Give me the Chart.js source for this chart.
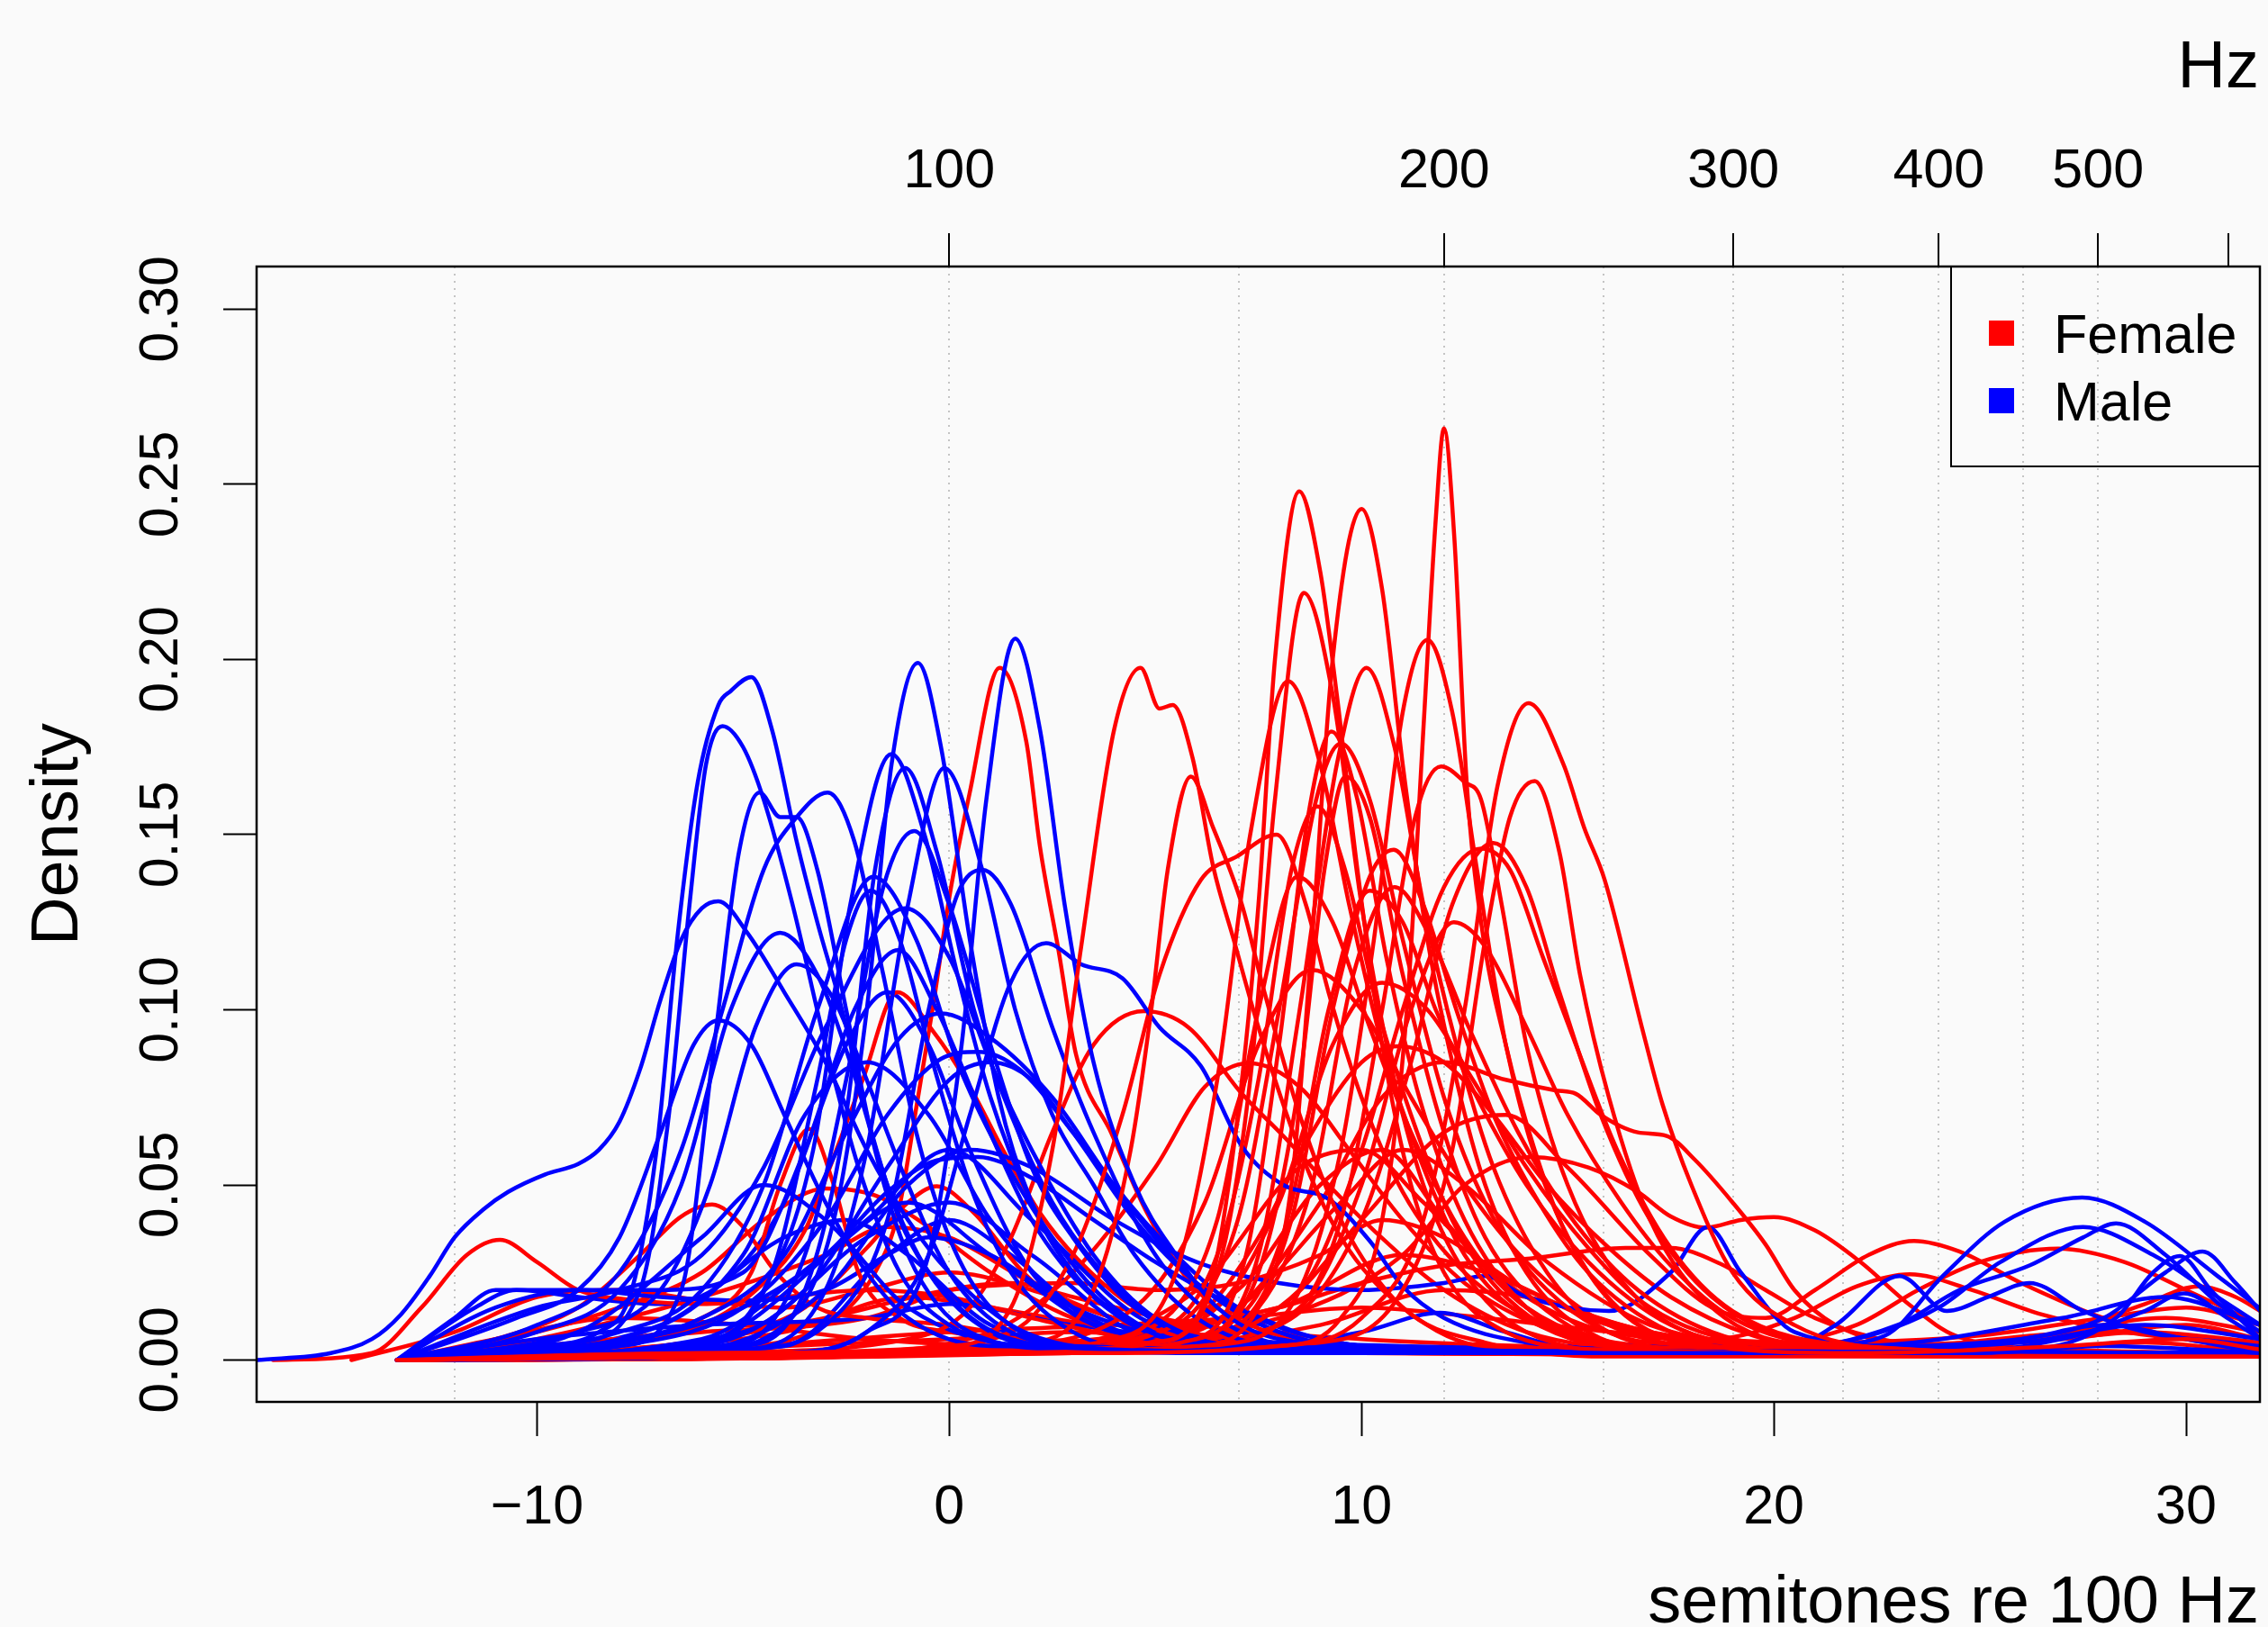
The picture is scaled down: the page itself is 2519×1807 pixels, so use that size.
<!DOCTYPE html>
<html>
<head>
<meta charset="utf-8">
<title>F0 density per speaker</title>
<script src="https://cdn.jsdelivr.net/npm/chart.js@4.4.1/dist/chart.umd.min.js"></script>
<style>
  html, body { margin: 0; padding: 0; background: #fafafa; overflow: hidden; }
  #wrap { width: 2519px; height: 1807px; position: relative; }
</style>
</head>
<body>
<div id="wrap"><canvas id="chart"></canvas></div>
<script>
/* ================= AXES / TEXT ================= */
const semitoneTicks  = [-10, 0, 10, 20, 30];
const semitoneLabels = ["\u221210", "0", "10", "20", "30"];
const densityTicks   = [0, 0.05, 0.10, 0.15, 0.20, 0.25, 0.30];
const densityLabels  = ["0.00", "0.05", "0.10", "0.15", "0.20", "0.25", "0.30"];
const hzTicks  = [50, 100, 150, 200, 250, 300, 350, 400, 450, 500, 550, 600];
const hzLabels = ["", "100", "", "200", "", "300", "", "400", "", "500", "", ""];
const xTitle   = "semitones re 100 Hz";
const x2Title  = "Hz";
const yTitle   = "Density";
const legendLabels = ["Female", "Male"];
const legendColors = ["#ff0000", "#0000ff"];

/* ================= DATA ================= */
// knots [semitones re 100 Hz, density]

// ---- female ----
const F01 = [[-13.4,0],[-6,0.002],[3,0.002],[8,0.004],[9.5,0.012],[10.5,0.04],[11.1,0.1],[11.5,0.18],[11.8,0.24],[12,0.266],[12.25,0.235],[12.55,0.165],[12.9,0.125],[13.5,0.09],[14.2,0.06],[15,0.035],[16.5,0.012],[18.5,0.004],[22,0.002],[27,0.004],[30,0.006],[31.8,0.003]];
const F02 = [[-13.4,0],[-5,0.002],[2,0.002],[5,0.005],[6.3,0.02],[7,0.07],[7.5,0.13],[7.9,0.2],[8.49,0.248],[9,0.225],[9.4,0.19],[9.9,0.14],[10.5,0.09],[11.2,0.05],[12,0.025],[13.5,0.008],[16,0.003],[31.8,0.001]];
const F03 = [[-13.4,0],[0,0.002],[6,0.004],[7.5,0.015],[8.3,0.05],[8.8,0.12],[9.3,0.2],[10,0.243],[10.5,0.22],[11,0.17],[11.6,0.12],[12.3,0.08],[13,0.05],[14,0.025],[15.5,0.008],[18,0.002],[31.8,0.001]];
const F04 = [[-13.4,0],[0,0.002],[5,0.005],[6.5,0.025],[7.3,0.08],[7.9,0.16],[8.6,0.219],[9.3,0.19],[10,0.13],[10.7,0.085],[11.5,0.05],[12.5,0.025],[14,0.008],[17,0.002],[31.8,0.001]];
const F05 = [[-13.4,0],[2,0.002],[7,0.005],[8.5,0.02],[9.5,0.06],[10.3,0.12],[11,0.185],[11.6,0.2056],[12.2,0.185],[12.8,0.14],[13.5,0.09],[14.3,0.055],[15.5,0.025],[17,0.008],[20,0.002],[31.8,0.001]];
const F06 = [[-13.4,0],[-5,0.002],[0,0.004],[1.5,0.015],[2.5,0.06],[3.2,0.118],[4,0.18],[4.64,0.1976],[5.1,0.186],[5.42,0.187],[5.9,0.172],[6.4,0.141],[6.9,0.12],[7.5,0.095],[8.5,0.06],[9.5,0.035],[11,0.015],[13,0.004],[31.8,0.001]];
const F07 = [[-13.4,0],[0,0.002],[4,0.006],[5.5,0.025],[6.5,0.08],[7.3,0.15],[8.22,0.1938],[9,0.17],[9.7,0.13],[10.5,0.09],[11.5,0.055],[12.5,0.03],[14,0.012],[17,0.003],[31.8,0.001]];
const F08 = [[-13.4,0],[2,0.002],[6,0.006],[7.5,0.03],[8.5,0.1],[9.4,0.17],[10.12,0.1976],[10.8,0.175],[11.5,0.13],[12.3,0.09],[13.2,0.055],[14.5,0.025],[16,0.008],[19,0.002],[31.8,0.001]];
const F09 = [[-13.4,0],[2,0.002],[8,0.004],[10,0.012],[11.5,0.04],[12.5,0.1],[13.3,0.164],[14.05,0.1875],[14.9,0.17],[15.4,0.152],[15.9,0.137],[16.8,0.095],[17.3,0.073],[18,0.05],[19,0.025],[20.5,0.01],[23,0.003],[31.8,0.001]];
const F10 = [[-13.4,0],[3,0.002],[9,0.005],[11,0.02],[12.2,0.06],[13,0.12],[13.6,0.155],[14.2,0.1653],[14.8,0.145],[15.3,0.11],[16,0.075],[17,0.04],[18.5,0.015],[21,0.004],[31.8,0.001]];
const F11 = [[-13.4,0],[-3,0.002],[2,0.005],[3.5,0.02],[4.4,0.06],[4.9,0.1],[5.3,0.14],[5.86,0.1666],[6.4,0.152],[7.1,0.13],[7.6,0.107],[8.5,0.07],[9.5,0.04],[11,0.015],[13,0.005],[16,0.001],[31.8,0.001]];
const F12 = [[-13.4,0],[3,0.002],[6,0.006],[7.2,0.03],[8,0.09],[8.7,0.155],[9.27,0.1794],[9.9,0.16],[10.6,0.115],[11.4,0.075],[12.5,0.04],[14,0.015],[16,0.004],[31.8,0.001]];
const F13 = [[-13.4,0],[2,0.003],[5.5,0.01],[7,0.04],[8,0.1],[8.9,0.16],[9.5,0.176],[10.2,0.16],[11,0.12],[12,0.075],[13,0.045],[14.5,0.02],[17,0.005],[31.8,0.001]];
const F14 = [[-13.4,0],[4,0.003],[8,0.01],[9.5,0.04],[10.5,0.1],[11.3,0.155],[11.93,0.1695],[12.5,0.165],[12.9,0.16],[13.4,0.13],[14,0.09],[15,0.05],[16.5,0.02],[19,0.005],[31.8,0.001]];
const F15 = [[-13.4,0],[2,0.002],[6,0.006],[7.5,0.025],[8.5,0.08],[9.1,0.14],[9.61,0.1666],[10.2,0.155],[11,0.11],[12,0.065],[13,0.035],[14.5,0.014],[17,0.003],[31.8,0.001]];
const F16 = [[-13.4,0],[3,0.002],[8,0.01],[10,0.04],[11.2,0.085],[12.2,0.13],[13.2,0.1476],[14,0.135],[14.8,0.105],[15.8,0.07],[17,0.04],[18.5,0.018],[21,0.005],[31.8,0.001]];
const F17 = [[-13.4,0],[4,0.003],[8.5,0.02],[10,0.06],[11,0.1],[12,0.135],[12.9,0.146],[13.6,0.14],[14.4,0.115],[15.2,0.09],[16.2,0.06],[17.5,0.032],[19,0.014],[22,0.004],[31.8,0.001]];
const F18 = [[-13.4,0],[1,0.002],[5,0.008],[6.5,0.03],[7.5,0.08],[8.3,0.14],[8.93,0.158],[9.6,0.14],[10.4,0.1],[11.2,0.07],[12.2,0.04],[13.5,0.018],[16,0.004],[31.8,0.001]];
const F19 = [[-13.4,0],[-2,0.002],[1.5,0.008],[3,0.03],[4.2,0.07],[5.1,0.11],[6.1,0.137],[6.98,0.1438],[7.94,0.15],[8.65,0.13],[9.2,0.105],[10,0.075],[11,0.048],[12.5,0.025],[14.5,0.01],[17,0.003],[31.8,0.001]];
const F20 = [[-13.4,0],[4,0.003],[7,0.01],[8.3,0.04],[9.3,0.1],[10.2,0.138],[10.78,0.1457],[11.5,0.13],[12.3,0.1],[13.2,0.07],[14.3,0.045],[15.5,0.025],[17.5,0.008],[20,0.002],[31.8,0.001]];
const F21 = [[-13.4,0],[2,0.003],[5,0.01],[6.5,0.04],[7.5,0.1],[8.44,0.138],[9.3,0.125],[10.2,0.095],[11.2,0.065],[12.5,0.035],[14,0.015],[16.5,0.004],[31.8,0.001]];
const F22 = [[-13.4,0],[4,0.003],[7,0.012],[8.2,0.04],[9.2,0.1],[10.2,0.134],[11,0.125],[11.8,0.1],[12.8,0.075],[14,0.05],[15.5,0.028],[17.5,0.01],[20,0.003],[31.8,0.001]];
const F23 = [[-13.4,0],[5,0.003],[7.5,0.015],[8.8,0.05],[9.8,0.11],[10.8,0.135],[11.7,0.12],[12.6,0.095],[13.8,0.065],[15,0.042],[16.5,0.022],[18.5,0.008],[21,0.003],[31.8,0.001]];
const F24 = [[-13.4,0],[5,0.003],[8.5,0.015],[10,0.05],[11.2,0.1],[12.24,0.125],[13,0.118],[14,0.095],[15,0.07],[16.3,0.045],[17.5,0.027],[19,0.012],[21.5,0.004],[31.8,0.001]];
const F25 = [[-13.4,0],[3,0.003],[6.5,0.015],[8,0.045],[9.3,0.09],[10.5,0.1077],[11.6,0.1],[12.7,0.08],[14,0.055],[15.5,0.032],[17,0.015],[19.5,0.005],[31.8,0.001]];
const F26 = [[-13.4,0],[1,0.004],[4.5,0.015],[6.2,0.045],[7.5,0.09],[8.8,0.1114],[10,0.1],[11.2,0.075],[12.5,0.05],[14,0.028],[16,0.01],[19,0.003],[31.8,0.001]];
const F27 = [[-13.4,0],[-6,0.002],[-1,0.006],[0.5,0.015],[1.5,0.035],[2.5,0.065],[3.5,0.09],[4.72,0.0996],[5.8,0.095],[7.1,0.076],[8.1,0.064],[9.2,0.05],[10.3,0.037],[12,0.02],[14,0.008],[17,0.003],[31.8,0.001]];
const F28 = [[-13.4,0],[3,0.003],[6,0.012],[7.5,0.035],[8.8,0.065],[10,0.085],[10.88,0.0896],[12,0.085],[13.2,0.07],[14.5,0.05],[16,0.032],[17.5,0.018],[19.5,0.007],[22,0.002],[31.8,0.001]];
const F29 = [[-13.4,0],[-3,0.002],[1,0.008],[3,0.025],[5,0.055],[6.2,0.078],[7.27,0.0848],[8.5,0.078],[9.7,0.06],[11,0.04],[12.5,0.022],[14.5,0.009],[17,0.003],[31.8,0.001]];
const F30 = [[-13.4,0],[-9,0.004],[-6,0.01],[-4.5,0.022],[-3.5,0.037],[-2.8,0.058],[-2.1,0.08],[-1.26,0.105],[-0.4,0.094],[0.5,0.078],[1.35,0.059],[2.2,0.042],[3.1,0.029],[4.5,0.015],[6.5,0.006],[10,0.002],[31.8,0.001]];
const F31 = [[-13.4,0],[-9,0.005],[-6,0.012],[-4.8,0.025],[-4.1,0.05],[-3.4,0.066],[-2.8,0.05],[-2.2,0.025],[-1.2,0.012],[0,0.008],[2,0.006],[4,0.005],[8,0.003],[31.8,0.001]];
const F32 = [[-13.4,0],[-11,0.006],[-9,0.015],[-7.5,0.03],[-6.5,0.041],[-5.75,0.0444],[-5,0.038],[-4.2,0.025],[-3.2,0.015],[-2,0.012],[0,0.01],[2,0.006],[5,0.003],[31.8,0.001]];
const F33 = [[-16.4,0],[-14,0.002],[-12.8,0.015],[-11.7,0.03],[-10.9,0.0343],[-10,0.028],[-9,0.02],[-7.5,0.017],[-6,0.016],[-4,0.018],[-2,0.02],[0,0.018],[2,0.012],[5,0.005],[10,0.002],[31.8,0.001]];
const F34 = [[-13.4,0],[-10,0.008],[-8,0.015],[-6,0.025],[-4.5,0.04],[-3,0.049],[-1.8,0.047],[-0.5,0.038],[1,0.025],[3,0.012],[6,0.004],[31.8,0.001]];
const F35 = [[-13.4,0],[-8,0.003],[-5,0.008],[-3.5,0.015],[-2,0.032],[-1,0.045],[-0.3,0.0496],[0.6,0.042],[1.8,0.025],[3.2,0.012],[5.5,0.005],[31.8,0.001]];
const F36 = [[-13.4,0],[-4,0.002],[3,0.004],[8,0.012],[11,0.03],[12.5,0.05],[14.1,0.058],[15.5,0.055],[16.7,0.048],[17.5,0.041],[18.35,0.0378],[19.2,0.04],[20,0.0408],[21,0.037],[22.1,0.028],[23.3,0.0157],[24.4,0.007],[27,0.003],[31.8,0.002]];
const F37 = [[-13.4,0],[3,0.003],[8,0.015],[10,0.04],[12,0.065],[13.5,0.07],[15,0.055],[17,0.03],[18.5,0.015],[19.8,0.012],[21,0.02],[22.3,0.03],[23.4,0.034],[24.5,0.031],[26,0.022],[28,0.012],[30,0.006],[31.8,0.003]];
const F38 = [[-13.4,0],[3,0.003],[7,0.015],[9.5,0.045],[11,0.06],[12.5,0.05],[14.5,0.028],[17,0.01],[20,0.005],[22,0.01],[23.5,0.02],[25,0.028],[26.9,0.0318],[28.5,0.028],[30,0.02],[31.8,0.01]];
const F39 = [[-13.4,0],[2,0.003],[6,0.02],[8.5,0.055],[10,0.06],[11.5,0.045],[13.5,0.022],[16,0.008],[18.5,0.006],[20.5,0.012],[22,0.021],[23.3,0.0245],[24.8,0.02],[26.5,0.013],[28.5,0.008],[31.8,0.004]];
const F40 = [[-13.4,0],[3,0.003],[7,0.02],[9,0.05],[10.5,0.06],[12,0.04],[14,0.015],[17,0.004],[24,0.003],[27,0.008],[29,0.016],[30.3,0.021],[31.2,0.018],[31.8,0.014]];
const F41 = [[-13.4,0],[3,0.003],[7,0.015],[9,0.045],[10.5,0.075],[12,0.085],[13.5,0.08],[14.7,0.077],[15.2,0.076],[15.8,0.07],[16.7,0.065],[17.4,0.064],[18.1,0.057],[19,0.045],[19.8,0.033],[20.5,0.02],[21.5,0.01],[23.5,0.004],[31.8,0.001]];
const F42 = [[-13.4,0],[0,0.003],[5,0.008],[8,0.015],[10,0.022],[12,0.027],[14.1,0.029],[16.4,0.032],[17.5,0.032],[18.7,0.0275],[19.8,0.02],[21,0.012],[23,0.005],[26,0.003],[29,0.005],[31.8,0.002]];
const F43 = [[-13.4,0],[-10,0.004],[-6,0.008],[-2,0.012],[0,0.02],[1.5,0.022],[3,0.018],[6,0.01],[10,0.006],[14,0.004],[20,0.003],[26,0.005],[29,0.008],[31.8,0.005]];
const F44 = [[-13.4,0],[-8,0.003],[-4,0.008],[-1,0.018],[1,0.015],[4,0.01],[8,0.015],[11,0.03],[13,0.025],[16,0.01],[20,0.004],[27,0.006],[30,0.01],[31.8,0.006]];
const F45 = [[-13.4,0],[-11,0.006],[-8,0.012],[-5,0.01],[-2,0.006],[2,0.004],[6,0.005],[9,0.01],[12,0.02],[14,0.018],[17,0.008],[22,0.003],[28,0.008],[31.8,0.004]];
const F46 = [[-13.4,0],[-9,0.002],[-4,0.004],[0,0.006],[3,0.008],[6,0.006],[10,0.004],[16,0.003],[22,0.004],[26,0.006],[29.5,0.012],[31.8,0.008]];
const F47 = [[-13.4,0],[-10,0.006],[-6,0.018],[-3,0.03],[-1.5,0.038],[0,0.035],[2,0.022],[4,0.012],[7,0.006],[12,0.003],[31.8,0.001]];
const F48 = [[-14.5,0],[-12,0.008],[-10,0.018],[-8,0.02],[-6,0.017],[-4,0.015],[-2,0.02],[0,0.025],[2,0.02],[4,0.012],[7,0.005],[12,0.002],[31.8,0.001]];
const F49 = [[-13.4,0],[-7,0.004],[-3,0.012],[0,0.02],[3,0.022],[5,0.02],[7,0.022],[9,0.03],[10.5,0.04],[12,0.035],[14,0.02],[17,0.008],[21,0.003],[31.8,0.001]];
const F50 = [[-13.4,0],[-6,0.003],[0,0.008],[4,0.01],[7,0.012],[10,0.015],[13,0.012],[17,0.007],[21,0.005],[25,0.007],[28,0.012],[30,0.015],[31.8,0.01]];
const F51 = [[-13.4,0],[-6,0.003],[-3,0.01],[-1.8,0.025],[-1.24,0.042],[-0.8,0.072],[-0.38,0.102],[0,0.132],[0.49,0.1616],[1.22,0.1976],[1.87,0.1765],[2.2,0.1466],[2.65,0.117],[3.08,0.087],[3.94,0.0646],[4.8,0.042],[6,0.02],[8,0.007],[11,0.002],[31.8,0.001]];

// ---- male ----
const M01 = [[-13.4,0],[-10,0.004],[-8.5,0.008],[-7.7,0.02],[-7.1,0.06],[-6.6,0.12],[-6.1,0.165],[-5.6,0.187],[-5.3,0.191],[-4.8,0.195],[-4.3,0.18],[-3.7,0.148],[-3.2,0.125],[-2.6,0.1],[-2,0.07],[-1.2,0.04],[0,0.018],[1.5,0.006],[4,0.003],[10,0.002],[25,0.002],[28,0.004],[31.8,0.002]];
const M02 = [[-13.4,0],[-9,0.005],[-7.5,0.02],[-6.8,0.07],[-6.3,0.13],[-5.9,0.17],[-5.5,0.181],[-5,0.175],[-4.5,0.16],[-3.8,0.13],[-3,0.09],[-2.2,0.055],[-1.2,0.025],[0,0.01],[2,0.004],[12,0.002],[31.8,0.002]];
const M03 = [[-13.4,0],[-8,0.004],[-6.5,0.02],[-5.7,0.09],[-5.1,0.145],[-4.6,0.162],[-4.1,0.155],[-3.7,0.155],[-3.2,0.14],[-2.5,0.1],[-1.8,0.06],[-1,0.03],[0.5,0.008],[3,0.003],[31.8,0.002]];
const M04 = [[-13.4,0],[-10,0.01],[-8,0.025],[-6.5,0.06],[-5.5,0.1],[-4.5,0.14],[-3.7,0.155],[-2.95,0.162],[-2.3,0.148],[-1.6,0.11],[-0.8,0.065],[0,0.035],[1,0.015],[3,0.004],[20,0.002],[31.8,0.002]];
const M05 = [[-16.8,0],[-15,0.002],[-14,0.006],[-13.3,0.013],[-12.6,0.024],[-12,0.035],[-11.3,0.043],[-10.7,0.048],[-9.8,0.053],[-9,0.056],[-8.5,0.06],[-8,0.068],[-7.5,0.083],[-7,0.103],[-6.5,0.12],[-6,0.129],[-5.6,0.131],[-4.9,0.122],[-4,0.105],[-3,0.085],[-2,0.06],[-1,0.04],[0,0.025],[1.5,0.01],[3,0.004],[6,0.002],[31.8,0.002]];
const M06 = [[-13.4,0],[-10,0.008],[-8,0.02],[-6.5,0.05],[-5.3,0.1],[-4.1,0.122],[-3.2,0.11],[-2.4,0.085],[-1.5,0.05],[-0.5,0.025],[1,0.008],[3,0.003],[31.8,0.002]];
const M07 = [[-13.4,0],[-10.5,0.012],[-9,0.02],[-8,0.035],[-7,0.065],[-6.2,0.09],[-5.6,0.097],[-4.8,0.09],[-4,0.07],[-3,0.045],[-2,0.025],[-1,0.012],[1,0.004],[31.8,0.002]];
const M08 = [[-13.4,0],[-9,0.008],[-7,0.02],[-5.8,0.05],[-4.7,0.095],[-3.7,0.113],[-2.8,0.103],[-2,0.08],[-1,0.05],[0,0.025],[1.5,0.008],[4,0.003],[31.8,0.002]];
const M09 = [[-13.4,0],[-6,0.003],[-4,0.01],[-2.8,0.04],[-2,0.1],[-1.4,0.17],[-0.76,0.199],[-0.2,0.175],[0.5,0.12],[1.2,0.075],[2,0.045],[3,0.025],[4.5,0.01],[7,0.004],[31.8,0.002]];
const M10 = [[-13.4,0],[-4,0.002],[-2,0.008],[-0.5,0.03],[0.3,0.09],[0.9,0.16],[1.6,0.206],[2.2,0.18],[2.8,0.13],[3.5,0.085],[4.5,0.05],[5.5,0.03],[6.5,0.015],[8,0.006],[12,0.003],[31.8,0.002]];
const M11 = [[-13.4,0],[-6,0.004],[-4.5,0.02],[-3.3,0.06],[-2.4,0.13],[-1.4,0.173],[-0.6,0.15],[0.2,0.11],[1,0.075],[2,0.045],[3,0.025],[4.5,0.01],[7,0.003],[31.8,0.002]];
const M12 = [[-13.4,0],[-5,0.004],[-3.5,0.02],[-2.5,0.07],[-1.8,0.14],[-1.07,0.169],[-0.3,0.145],[0.6,0.1],[1.5,0.07],[2.5,0.045],[3.5,0.028],[5,0.012],[7,0.004],[31.8,0.002]];
const M13 = [[-13.4,0],[-5,0.003],[-3,0.02],[-2,0.06],[-1,0.13],[-0.12,0.169],[0.8,0.14],[1.6,0.1],[2.5,0.07],[3.5,0.05],[4.5,0.03],[6,0.012],[8,0.004],[31.8,0.002]];
const M14 = [[-13.4,0],[-5,0.005],[-3.5,0.03],[-2.5,0.08],[-1.6,0.135],[-0.85,0.151],[0,0.13],[1,0.09],[2,0.055],[3,0.035],[4.5,0.015],[7,0.004],[31.8,0.002]];
const M15 = [[-13.4,0],[-5,0.003],[-3,0.01],[-1.5,0.04],[-0.5,0.1],[0.2,0.133],[0.8,0.14],[1.5,0.13],[2.5,0.095],[3.5,0.065],[5,0.03],[6.5,0.012],[8.5,0.004],[31.8,0.002]];
const M16 = [[-13.4,0],[-4,0.002],[-2,0.008],[-0.5,0.03],[0.5,0.07],[1.5,0.108],[2.35,0.119],[3.2,0.113],[4.2,0.109],[5.1,0.095],[6.1,0.084],[7.1,0.061],[8.1,0.05],[9.2,0.046],[10.2,0.034],[11,0.021],[12,0.012],[14,0.005],[17,0.003],[31.8,0.002]];
const M17 = [[-13.4,0],[-8,0.008],[-6,0.02],[-4.5,0.05],[-3.2,0.1],[-1.84,0.138],[-0.8,0.12],[0.2,0.085],[1.2,0.06],[2.5,0.035],[4,0.015],[6,0.005],[31.8,0.002]];
const M18 = [[-13.4,0],[-6,0.004],[-4.3,0.025],[-3.2,0.08],[-2.5,0.12],[-1.9,0.134],[-1.2,0.12],[-0.4,0.085],[0.5,0.05],[1.5,0.025],[3,0.008],[5,0.003],[31.8,0.002]];
const M19 = [[-13.4,0],[-10,0.015],[-8,0.02],[-6,0.03],[-4.5,0.055],[-3,0.095],[-1.07,0.129],[0,0.115],[1,0.085],[2,0.06],[3.5,0.03],[5,0.012],[7,0.004],[31.8,0.002]];
const M20 = [[-13.4,0],[-11,0.015],[-9,0.02],[-7,0.02],[-5,0.025],[-3.5,0.06],[-2.3,0.1],[-1.24,0.117],[-0.3,0.1],[0.8,0.07],[2,0.04],[3.5,0.018],[5.5,0.006],[31.8,0.002]];
const M21 = [[-13.4,0],[-9,0.004],[-6,0.012],[-4,0.03],[-2.5,0.065],[-1.2,0.092],[-0.2,0.099],[1,0.092],[2.5,0.075],[4,0.05],[5.5,0.03],[7,0.015],[9,0.006],[12,0.003],[31.8,0.002]];
const M22 = [[-13.4,0],[-8,0.004],[-5,0.015],[-3,0.04],[-1.5,0.07],[-0.2,0.086],[0.7,0.088],[1.7,0.083],[3,0.065],[4.5,0.042],[6,0.022],[8,0.008],[11,0.003],[31.8,0.002]];
const M23 = [[-13.4,0],[-8,0.005],[-5,0.015],[-3,0.03],[-1.5,0.048],[-0.3,0.057],[0.7,0.058],[2,0.052],[3.5,0.04],[5,0.028],[7,0.015],[9,0.006],[12,0.003],[31.8,0.002]];
const M24 = [[-13.4,0],[-6,0.004],[-3.5,0.02],[-1.5,0.055],[0,0.08],[1,0.085],[2,0.08],[3,0.065],[4.5,0.04],[6,0.022],[8,0.008],[11,0.003],[31.8,0.002]];
const M25 = [[-13.4,0],[-6,0.003],[-3,0.02],[-1,0.05],[0.5,0.06],[2,0.055],[4,0.04],[6,0.028],[8,0.022],[10,0.02],[12,0.022],[13,0.024],[14,0.018],[16,0.014],[17.5,0.025],[18.4,0.038],[19.2,0.025],[20.5,0.008],[23,0.004],[26,0.006],[28,0.01],[30,0.006],[31.8,0.002]];
const M26 = [[-13.4,0],[-8,0.006],[-5,0.03],[-3.5,0.07],[-2,0.085],[-0.5,0.07],[1,0.04],[3,0.015],[6,0.004],[12,0.002],[18,0.002],[21,0.004],[22.7,0.007],[24.1,0.024],[25.6,0.0395],[27.48,0.0464],[29,0.0395],[30.76,0.024],[31.8,0.0147]];
const M27 = [[-13.4,0],[-6,0.005],[-2,0.04],[0,0.06],[2,0.04],[5,0.01],[10,0.003],[18,0.002],[22,0.006],[24,0.015],[25.5,0.028],[27.5,0.038],[29.2,0.03],[30.5,0.02],[31.8,0.01]];
const M28 = [[-13.4,0],[-6,0.006],[-3,0.03],[-1,0.045],[1,0.03],[4,0.008],[10,0.003],[20,0.003],[23,0.01],[24.5,0.02],[26.2,0.027],[27.5,0.035],[28.3,0.039],[29.5,0.03],[30.8,0.016],[31.8,0.008]];
const M29 = [[-13.4,0],[-9,0.008],[-6,0.035],[-4.5,0.05],[-3,0.04],[-1,0.015],[2,0.004],[20,0.002],[26,0.006],[28,0.012],[29.5,0.025],[30.4,0.031],[31.2,0.022],[31.8,0.014]];
const M30 = [[-13.4,0],[-5,0.008],[-2,0.035],[0,0.045],[2,0.03],[5,0.006],[15,0.002],[26,0.003],[28.3,0.012],[29.2,0.025],[29.85,0.0297],[30.6,0.02],[31.8,0.006]];
const M31 = [[-13.4,0],[-7,0.01],[-4,0.035],[-2.5,0.04],[-1,0.03],[1,0.01],[4,0.003],[12,0.002],[20,0.002],[21.5,0.01],[23.05,0.024],[24.2,0.014],[25.2,0.018],[26.2,0.022],[27.5,0.014],[29,0.008],[31,0.005],[31.8,0.004]];
const M32 = [[-13.4,0],[-12,0.012],[-11,0.02],[-9,0.02],[-7,0.018],[-5,0.017],[-3,0.02],[-1.5,0.03],[-0.5,0.035],[1,0.03],[3,0.015],[6,0.005],[12,0.002],[20,0.003],[26,0.005],[29,0.01],[31.8,0.006]];
const M33 = [[-13.4,0],[-11.5,0.015],[-10.5,0.02],[-9,0.018],[-7,0.016],[-5.5,0.022],[-4,0.045],[-2.5,0.09],[-1.5,0.105],[-0.5,0.09],[0.5,0.06],[2,0.025],[4,0.008],[8,0.003],[31.8,0.002]];
const M34 = [[-13.4,0],[-10,0.006],[-6,0.01],[-2,0.012],[0,0.016],[3,0.01],[8,0.005],[10,0.008],[11.9,0.0135],[13.5,0.008],[15,0.004],[22,0.004],[27,0.012],[29.5,0.018],[31.8,0.01]];
const M35 = [[-13.4,0],[-4,0.004],[-1.5,0.03],[0,0.04],[1.5,0.03],[4,0.008],[10,0.003],[24,0.002],[27,0.006],[29,0.014],[29.95,0.019],[31,0.012],[31.8,0.006]];

const femaleCurves = [F01,F02,F03,F04,F05,F06,F07,F08,F09,F10,F11,F12,F13,F14,F15,F16,F17,F18,F19,F20,
  F21,F22,F23,F24,F25,F26,F27,F28,F29,F30,F31,F32,F33,F34,F35,F36,F37,F38,F39,F40,F41,F42,F43,F44,F45,F46,F47,F48,F49,F50,F51];
const maleCurves = [M01,M02,M03,M04,M05,M06,M07,M08,M09,M10,M11,M12,M13,M14,M15,M16,M17,M18,M19,M20,
  M21,M22,M23,M24,M25,M26,M27,M28,M29,M30,M31,M32,M33,M34,M35];

/* ================= HELPERS ================= */
const FONT = '"Liberation Sans", Arial, Helvetica, sans-serif';
const st = hz => 12 * Math.log2(hz / 100);   // Hz -> semitones re 100 Hz
const toXY = knots => knots.map(([x, y]) => ({ x, y }));

function curveSet(knots, color) {
  return {
    data: toXY(knots),
    borderColor: color,
    borderWidth: 4.5,
    pointRadius: 0,
    fill: false,
    cubicInterpolationMode: "monotone",
    borderJoinStyle: "round",
    borderCapStyle: "round"
  };
}

const datasets = [];
const nMax = Math.max(femaleCurves.length, maleCurves.length);
for (let i = 0; i < nMax; i++) {
  if (femaleCurves[i]) datasets.push(curveSet(femaleCurves[i], legendColors[0]));
  if (maleCurves[i])   datasets.push(curveSet(maleCurves[i], legendColors[1]));
}

/* ================= R-STYLE FRAME / TEXT ================= */
const rFrame = {
  id: "rFrame",
  afterDraw(chart) {
    const { ctx, chartArea: ca, scales } = chart;
    const x = scales.x, x2 = scales.x2, y = scales.y;
    ctx.save();

    // box
    ctx.strokeStyle = "#000";
    ctx.lineWidth = 2.5;
    ctx.strokeRect(ca.left, ca.top, ca.right - ca.left, ca.bottom - ca.top);

    ctx.fillStyle = "#000";
    ctx.font = `61px ${FONT}`;
    ctx.textAlign = "center";
    ctx.textBaseline = "alphabetic";

    // bottom ticks
    semitoneTicks.forEach((v, i) => {
      ctx.fillText(semitoneLabels[i], x.getPixelForValue(v), ca.bottom + 135);
    });
    // top ticks (Hz)
    hzTicks.forEach((hz, i) => {
      if (hzLabels[i]) ctx.fillText(hzLabels[i], x2.getPixelForValue(st(hz)), ca.top - 88);
    });
    // left ticks, rotated like R
    densityTicks.forEach((v, i) => {
      ctx.save();
      ctx.translate(ca.left - 88, y.getPixelForValue(v));
      ctx.rotate(-Math.PI / 2);
      ctx.fillText(densityLabels[i], 0, 0);
      ctx.restore();
    });

    // titles
    ctx.font = `74px ${FONT}`;
    ctx.textAlign = "right";
    ctx.fillText(x2Title, ca.right - 1, 97);
    ctx.fillText(xTitle, ca.right - 1, 1802);
    ctx.save();
    ctx.translate(86, (ca.top + ca.bottom) / 2);
    ctx.rotate(-Math.PI / 2);
    ctx.textAlign = "center";
    ctx.fillText(yTitle, 0, 0);
    ctx.restore();

    // legend (top right, inside the box)
    const lw = 343, lh = 222;
    const lx = ca.right - lw, ly = ca.top;
    ctx.lineWidth = 2;
    ctx.strokeRect(lx, ly, lw, lh);
    ctx.font = `61px ${FONT}`;
    ctx.textAlign = "left";
    legendLabels.forEach((lab, i) => {
      const rowY = ly + 74 + i * 75;
      ctx.fillStyle = legendColors[i];
      ctx.fillRect(lx + 42, rowY - 14, 28, 28);
      ctx.fillStyle = "#000";
      ctx.fillText(lab, lx + 114, rowY + 22);
    });

    ctx.restore();
  }
};

/* ================= CHART ================= */
const ctx = document.getElementById("chart").getContext("2d");

const chart = new Chart(ctx, {
  type: "line",
  data: { datasets },
  options: {
    responsive: true,
    maintainAspectRatio: false,
    animation: false,
    events: [],
    layout: { padding: { left: 0, right: 9, top: 0, bottom: 0 } },
    plugins: {
      legend: { display: false },
      tooltip: { enabled: false },
      title: { display: false }
    },
    scales: {
      x: {
        type: "linear",
        position: "bottom",
        min: -16.80,
        max: 31.79,
        afterBuildTicks: s => { s.ticks = semitoneTicks.map(v => ({ value: v })); },
        afterFit: s => { s.height = 250; },
        ticks: { display: false, autoSkip: false },
        grid: { drawOnChartArea: false, drawTicks: true, tickLength: 38, tickWidth: 2, tickColor: "#000" },
        border: { display: false }
      },
      x2: {
        type: "linear",
        position: "top",
        min: -16.80,
        max: 31.79,
        afterBuildTicks: s => { s.ticks = hzTicks.map(hz => ({ value: st(hz) })); },
        afterFit: s => { s.height = 296; },
        ticks: { display: false, autoSkip: false },
        grid: {
          drawOnChartArea: true,
          drawTicks: true,
          tickLength: 37,
          lineWidth: 2,
          tickWidth: 2,
          color: c => (hzTicks[c.index] <= 500 ? "#c4c4c4" : "rgba(0,0,0,0)"),
          tickColor: c => (hzTicks[c.index] % 100 === 0 ? "#000" : "rgba(0,0,0,0)")
        },
        border: { display: false, dash: [2, 6] }
      },
      y: {
        type: "linear",
        position: "left",
        min: -0.01195,
        max: 0.3122,
        afterBuildTicks: s => { s.ticks = densityTicks.map(v => ({ value: v })); },
        afterFit: s => { s.width = 285; },
        ticks: { display: false, autoSkip: false },
        grid: { drawOnChartArea: false, drawTicks: true, tickLength: 37, tickWidth: 2, tickColor: "#000" },
        border: { display: false }
      }
    }
  },
  plugins: [rFrame]
});
</script>
</body>
</html>
